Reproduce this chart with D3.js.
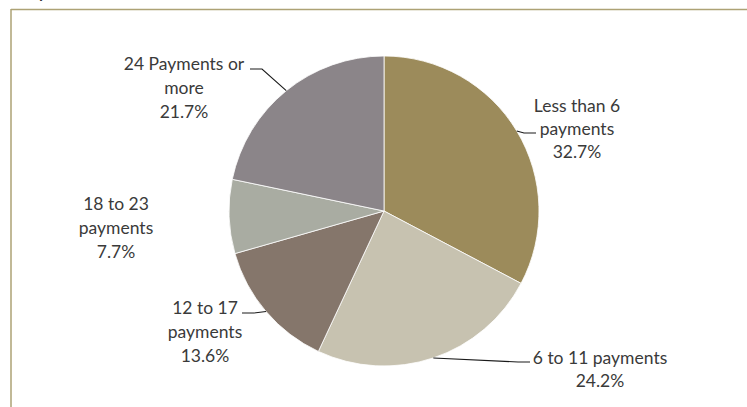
<!DOCTYPE html>
<html>
<head>
<meta charset="utf-8">
<script src="https://cdn.jsdelivr.net/npm/d3@7"></script>
<style>
  html, body { margin: 0; padding: 0; background: #fff; }
  svg { display: block; }
</style>
</head>
<body>
<svg id="chart" width="747" height="407"></svg>
<script>
// Share of loans by number of payments
const categories = ["Less than 6 payments", "6 to 11 payments", "12 to 17 payments", "18 to 23 payments", "24 Payments or more"];
const shares = [32.7, 24.2, 13.6, 7.7, 21.7];
const labelLines = [
  ["Less than 6", "payments", "32.7%"],
  ["6 to 11 payments", "24.2%"],
  ["12 to 17", "payments", "13.6%"],
  ["18 to 23", "payments", "7.7%"],
  ["24 Payments or", "more", "21.7%"]
];
const colors = ["#9c8b5b", "#c7c2b0", "#85766b", "#a9aca2", "#8b8589"];

// Label placement: centre x, first baseline, line step, and leader end (null = no leader)
const labelLayout = [
  { x: 577, y: 112, step: 23, leader: { x: 536, y: 133, side: 1 } },
  { x: 600, y: 364, step: 23, leader: { x: 530, y: 362, side: 1 } },
  { x: 205, y: 314, step: 24, leader: { x: 242, y: 313, side: -1 } },
  { x: 116, y: 210, step: 24, leader: null },
  { x: 184, y: 70, step: 24, leader: { x: 250, y: 69, side: -1 } }
];

const svg = d3.select("#chart");
const cx = 384, cy = 211, radius = 155;

// Tail of the heading sitting just above the frame
svg.append("text").attr("x", 38).attr("y", -2)
  .attr("font-family", "Lato, sans-serif").attr("font-weight", "bold")
  .attr("font-size", 16).attr("fill", "#333").text("y");

// Frame
svg.append("line").attr("x1", 11).attr("x2", 747).attr("y1", 9.5).attr("y2", 9.5)
  .attr("stroke", "#ada275").attr("stroke-width", 1.5);
svg.append("line").attr("x1", 11).attr("x2", 11).attr("y1", 9).attr("y2", 407)
  .attr("stroke", "#ada275").attr("stroke-width", 1.5);

const data = categories.map((c, i) => ({ name: c, value: shares[i], i }));

const pie = d3.pie().value(d => d.value).sort(null);
const arc = d3.arc().innerRadius(0).outerRadius(radius);
const edgeArc = d3.arc().innerRadius(radius).outerRadius(radius);

const arcs = pie(data);
const g = svg.append("g").attr("transform", `translate(${cx},${cy})`);

g.selectAll("path.slice")
  .data(arcs)
  .join("path")
  .attr("class", "slice")
  .attr("d", arc)
  .attr("fill", d => colors[d.data.i])
  .attr("stroke", "#ffffff")
  .attr("stroke-width", 0.8);

// Leader lines from slice edge midpoints to labels
arcs.forEach(d => {
  const lay = labelLayout[d.data.i];
  if (!lay.leader) return;
  const [ex, ey] = edgeArc.centroid(d);
  const sx = cx + ex, sy = cy + ey;
  const L = lay.leader;
  const elbowX = L.x + (L.side > 0 ? -12 : 12);
  const line = d3.line().curve(d3.curveLinear);
  svg.append("path")
    .attr("d", line([[sx, sy], [elbowX, L.y], [L.x, L.y]]))
    .attr("fill", "none")
    .attr("stroke", "#1a1a1a")
    .attr("stroke-width", 1.1);
});

// Data labels
const labelG = svg.append("g")
  .attr("font-family", "Lato, 'Open Sans', sans-serif")
  .attr("font-size", 17.5)
  .attr("fill", "#3a3a3a")
  .attr("text-anchor", "middle");

labelLines.forEach((lines, i) => {
  const lay = labelLayout[i];
  const t = labelG.append("text");
  lines.forEach((s, k) => {
    t.append("tspan").attr("x", lay.x).attr("y", lay.y + k * lay.step).text(s);
  });
});
</script>
</body>
</html>
